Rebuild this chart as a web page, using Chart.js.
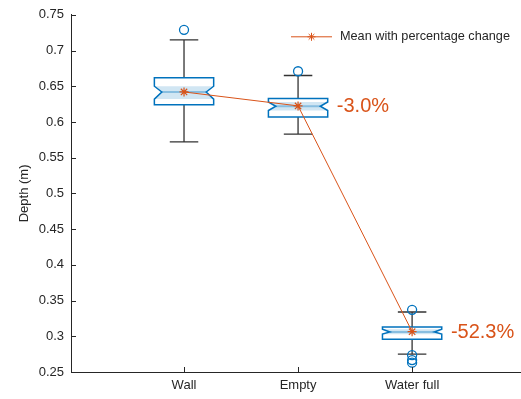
<!DOCTYPE html>
<html>
<head>
<meta charset="utf-8">
<script src="https://cdn.jsdelivr.net/npm/chart.js@4.4.1/dist/chart.umd.min.js"></script>
<style>
  html, body { margin: 0; padding: 0; background: #fff; }
  canvas { display: block; }
</style>
</head>
<body>
<canvas id="boxChart" width="521" height="399"></canvas>
<script>
const categories = ['Wall', 'Empty', 'Water full'];
const upperWhisker = [0.715, 0.665, 0.334];
const q3 = [0.662, 0.633, 0.313];
const notchHigh = [0.650, 0.628, 0.310];
const medians = [0.642, 0.622, 0.306];
const notchLow = [0.632, 0.616, 0.303];
const q1 = [0.624, 0.607, 0.296];
const lowerWhisker = [0.572, 0.583, 0.275];
const means = [0.642, 0.6225, 0.3065];
const outliers = [[0.729], [0.671], [0.337, 0.2736, 0.2667, 0.263]];
const percentLabels = ['', '-3.0%', '-52.3%'];
const legendLabel = 'Mean with percentage change';

const BLUE = '#0072BD';
const ORANGE = '#D95319';
const AXIS = '#262626';
const FONT = '"Liberation Sans", Arial, sans-serif';

// box half width and notch indent, in x-axis units
const boxHalf = 0.26;
const notchIndent = 0.065;
const capHalf = 0.125;

const boxPlugin = {
    id: 'boxes',
    beforeDatasetsDraw(chart) {
        const ctx = chart.ctx;
        const xs = chart.scales.x, ys = chart.scales.y;
        ctx.save();
        categories.forEach((c, i) => {
            const cx = xs.getPixelForValue(i + 1);
            const l = xs.getPixelForValue(i + 1 - boxHalf);
            const r = xs.getPixelForValue(i + 1 + boxHalf);
            const li = xs.getPixelForValue(i + 1 - boxHalf + notchIndent);
            const ri = xs.getPixelForValue(i + 1 + boxHalf - notchIndent);
            const cl = xs.getPixelForValue(i + 1 - capHalf);
            const cr = xs.getPixelForValue(i + 1 + capHalf);
            const yTop = ys.getPixelForValue(q3[i]);
            const yBot = ys.getPixelForValue(q1[i]);
            const nTop = ys.getPixelForValue(notchHigh[i]);
            const nBot = ys.getPixelForValue(notchLow[i]);
            const yMed = ys.getPixelForValue(medians[i]);
            const wTop = ys.getPixelForValue(upperWhisker[i]);
            const wBot = ys.getPixelForValue(lowerWhisker[i]);

            // whiskers
            ctx.strokeStyle = '#333333';
            ctx.lineWidth = 1.3;
            ctx.beginPath();
            ctx.moveTo(cx, wTop); ctx.lineTo(cx, yTop);
            ctx.moveTo(cx, yBot); ctx.lineTo(cx, wBot);
            ctx.moveTo(cl, wTop); ctx.lineTo(cr, wTop);
            ctx.moveTo(cl, wBot); ctx.lineTo(cr, wBot);
            ctx.stroke();

            const outline = () => {
                ctx.beginPath();
                ctx.moveTo(l, yTop); ctx.lineTo(r, yTop); ctx.lineTo(r, nTop);
                ctx.lineTo(ri, yMed); ctx.lineTo(r, nBot); ctx.lineTo(r, yBot);
                ctx.lineTo(l, yBot); ctx.lineTo(l, nBot); ctx.lineTo(li, yMed);
                ctx.lineTo(l, nTop); ctx.closePath();
            };

            // box face
            ctx.fillStyle = '#ffffff';
            outline();
            ctx.fill();

            // notch band
            ctx.fillStyle = 'rgba(0,114,189,0.18)';
            ctx.beginPath();
            ctx.moveTo(l, nTop); ctx.lineTo(r, nTop); ctx.lineTo(ri, yMed);
            ctx.lineTo(r, nBot); ctx.lineTo(l, nBot); ctx.lineTo(li, yMed);
            ctx.closePath();
            ctx.fill();

            // median
            ctx.strokeStyle = 'rgba(0,114,189,0.35)';
            ctx.lineWidth = 2;
            ctx.beginPath();
            ctx.moveTo(li, yMed); ctx.lineTo(ri, yMed);
            ctx.stroke();

            ctx.strokeStyle = BLUE;
            ctx.lineWidth = 1.5;
            outline();
            ctx.stroke();
        });
        ctx.restore();
    },
    afterDatasetsDraw(chart) {
        const ctx = chart.ctx;
        const xs = chart.scales.x, ys = chart.scales.y;
        const area = chart.chartArea;
        ctx.save();

        // bottom axis line runs to the edge of the figure
        ctx.strokeStyle = AXIS;
        ctx.lineWidth = 1;
        ctx.beginPath();
        ctx.moveTo(area.left, Math.round(area.bottom) + 0.5);
        ctx.lineTo(chart.width, Math.round(area.bottom) + 0.5);
        // inward tick marks
        ys.ticks.forEach(t => {
            const y = Math.round(ys.getPixelForValue(t.value)) + 0.5;
            ctx.moveTo(area.left, y); ctx.lineTo(area.left + 5, y);
        });
        xs.ticks.forEach(t => {
            const x = Math.round(xs.getPixelForValue(t.value)) + 0.5;
            ctx.moveTo(x, area.bottom); ctx.lineTo(x, area.bottom - 5);
        });
        ctx.stroke();

        // percentage labels
        ctx.fillStyle = ORANGE;
        ctx.font = '20px ' + FONT;
        ctx.textBaseline = 'middle';
        ctx.textAlign = 'left';
        percentLabels.forEach((p, i) => {
            if (!p) return;
            const x = xs.getPixelForValue(i + 1 + 0.34);
            const y = ys.getPixelForValue(means[i]);
            ctx.fillText(p, x, y + 1);
        });

        // legend
        const ly = area.top + 22;
        const lx = area.left + 220;
        ctx.strokeStyle = ORANGE;
        ctx.lineWidth = 1;
        ctx.beginPath();
        ctx.moveTo(lx, ly); ctx.lineTo(lx + 41, ly);
        ctx.stroke();
        Chart.helpers.drawPoint(ctx, { pointStyle: 'star', radius: 4, borderWidth: 1 }, lx + 20.5, ly);
        ctx.fillStyle = AXIS;
        ctx.font = '12.7px ' + FONT;
        ctx.fillText(legendLabel, lx + 49, ly);
        ctx.restore();
    }
};

const outlierPoints = [];
outliers.forEach((arr, i) => arr.forEach(v => outlierPoints.push({ x: i + 1, y: v })));

new Chart(document.getElementById('boxChart'), {
    type: 'scatter',
    data: {
        datasets: [{
            label: legendLabel,
            type: 'line',
            data: means.map((m, i) => ({ x: i + 1, y: m })),
            borderColor: ORANGE,
            borderWidth: 1,
            pointStyle: 'star',
            pointRadius: 4.5,
            pointBorderColor: ORANGE,
            pointBorderWidth: 1.2,
            fill: false,
            order: 1,
        }, {
            label: 'Outliers',
            data: outlierPoints,
            pointStyle: 'circle',
            pointRadius: 4.5,
            borderColor: BLUE,
            backgroundColor: 'rgba(0,0,0,0)',
            pointBorderWidth: 1.3,
            order: 2,
        }]
    },
    options: {
        responsive: false,
        devicePixelRatio: 1,
        animation: false,
        layout: { padding: { top: 12, right: 0, left: 17, bottom: 0 } },
        plugins: { legend: { display: false }, tooltip: { enabled: false } },
        scales: {
            x: {
                type: 'linear',
                min: 0.009,
                max: 3.904,
                grid: { display: false, drawTicks: false },
                border: { display: false },
                afterBuildTicks: scale => { scale.ticks = [1, 2, 3].map(v => ({ value: v })); },
                afterFit: scale => { scale.height = 27; },
                ticks: {
                    autoSkip: false,
                    maxRotation: 0,
                    padding: 6,
                    color: AXIS,
                    font: { family: FONT, size: 13 },
                    callback: v => categories[v - 1] || '',
                },
            },
            y: {
                min: 0.25,
                max: 0.75,
                grid: { display: false, drawTicks: false },
                border: { display: true, color: AXIS, width: 1 },
                afterFit: scale => { scale.width = 54; },
                title: {
                    display: true,
                    text: 'Depth (m)',
                    color: AXIS,
                    font: { family: FONT, size: 13 },
                    padding: { top: 0, bottom: 6 },
                },
                ticks: {
                    stepSize: 0.05,
                    padding: 7,
                    color: AXIS,
                    font: { family: FONT, size: 13 },
                    callback: v => String(Number(v.toFixed(2))),
                },
            }
        }
    },
    plugins: [boxPlugin]
});
</script>
</body>
</html>
